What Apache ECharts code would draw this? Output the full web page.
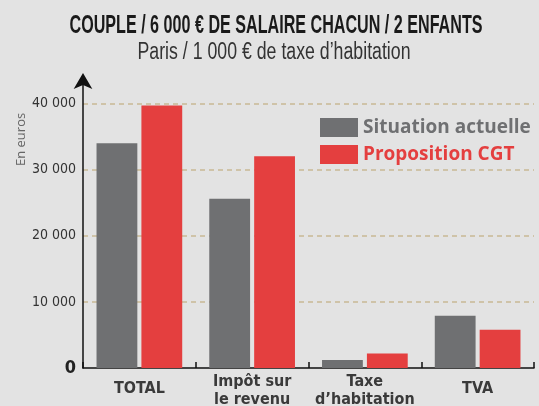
<!DOCTYPE html>
<html>
<head>
<meta charset="utf-8">
<script src="https://cdn.jsdelivr.net/npm/echarts@6/dist/echarts.min.js"></script>
<style>
  html, body { margin: 0; padding: 0; background: #e3e3e3; }
  #chart { width: 539px; height: 406px; }
</style>
</head>
<body>
<div id="chart"></div>
<script>
// categories et valeurs
var categories = ['TOTAL', 'Impôt sur\nle revenu', 'Taxe\nd\u2019habitation', 'TVA'];
var actuelle = [34000, 25600, 1200, 7900];
var cgt = [39700, 32000, 2200, 5800];
var seriesNames = ['Situation actuelle', 'Proposition CGT'];
var titre = 'COUPLE / 6 000 € DE SALAIRE CHACUN / 2 ENFANTS';
var sousTitre = 'Paris / 1 000 € de taxe d\u2019habitation';

var GRAY = '#6f7072', RED = '#e43f3f';
var COND = '"DejaVu Sans Condensed", "Liberation Sans", sans-serif';

// largeur de texte pour "condenser" les titres (police condensee absente)
function fitScale(text, font, target) {
    var ctx = document.createElement('canvas').getContext('2d');
    ctx.font = font;
    return target / ctx.measureText(text).width;
}
var titreFont = 'bold 25px "Liberation Sans"';
var sousTitreFont = '23px "Liberation Sans"';

// les libelles sur une ligne sont un peu plus bas
var categoryData = categories.map(function (c) {
    return c.indexOf('\n') < 0 ? { value: c, textStyle: { padding: [7, 0, 0, 0] } } : c;
});

var myChart = echarts.init(document.getElementById('chart'));

var option = {
    backgroundColor: '#e3e3e3',
    animation: false,
    legend: {
        orient: 'vertical',
        left: 315,
        top: 113,
        itemWidth: 38,
        itemHeight: 19,
        itemGap: 8,
        icon: 'rect',
        data: [
            { name: seriesNames[0], textStyle: { color: GRAY } },
            { name: seriesNames[1], textStyle: { color: RED } }
        ],
        textStyle: { fontFamily: '"Open Sans", sans-serif', fontWeight: 'bold', fontSize: 19 }
    },
    graphic: [
        {
            type: 'text',
            x: 276, y: 14,
            scaleX: fitScale(titre, titreFont, 413),
            style: { text: titre, font: titreFont, fill: '#1a1a1a', align: 'center', verticalAlign: 'top' }
        },
        {
            type: 'text',
            x: 274, y: 41,
            scaleX: fitScale(sousTitre, sousTitreFont, 273),
            style: { text: sousTitre, font: sousTitreFont, fill: '#333', align: 'center', verticalAlign: 'top' }
        },
        {
            type: 'text',
            x: 15, y: 166,
            rotation: Math.PI / 2,
            style: { text: 'En euros', fill: '#666', font: '13px "Open Sans"', align: 'left', verticalAlign: 'top' }
        }
    ],
    grid: { left: 83, right: 5, top: 77, bottom: 38, outerBoundsMode: 'none', containLabel: false },
    xAxis: {
        type: 'category',
        data: categoryData,
        axisLine: { lineStyle: { color: '#111', width: 1.5 } },
        axisTick: { show: true, inside: true, length: 6, lineStyle: { color: '#111', width: 1.5 } },
        axisLabel: {
            interval: 0,
            fontFamily: COND, fontWeight: 'bold', fontSize: 16, color: '#3a3a3a',
            lineHeight: 18, margin: 5
        }
    },
    yAxis: {
        type: 'value',
        min: 0,
        max: 44000,
        interval: 10000,
        axisLine: {
            show: true,
            symbol: ['none', 'arrow'],
            symbolSize: [14, 16],
            symbolOffset: [0, 4],
            lineStyle: { color: '#111', width: 1.5 }
        },
        axisTick: { show: false },
        splitLine: {
            show: true,
            showMinLine: false,
            showMaxLine: false,
            lineStyle: { color: '#cfc3a8', type: [5, 4], width: 2 }
        },
        axisLabel: {
            showMaxLabel: false,
            margin: 7,
            fontFamily: COND,
            fontSize: 14,
            color: '#333',
            formatter: function (v) {
                if (v % 10000 !== 0) return '';
                if (v === 0) return '{z|0}';
                return String(v / 1000) + ' 000';
            },
            rich: { z: { fontFamily: COND, fontSize: 18, fontWeight: 'bold', color: '#222' } }
        }
    },
    series: [
        {
            name: seriesNames[0],
            type: 'bar',
            data: actuelle,
            barGap: '10%',
            barCategoryGap: '24%',
            itemStyle: { color: GRAY }
        },
        {
            name: seriesNames[1],
            type: 'bar',
            data: cgt,
            itemStyle: { color: RED }
        }
    ]
};

myChart.setOption(option);
</script>
</body>
</html>
